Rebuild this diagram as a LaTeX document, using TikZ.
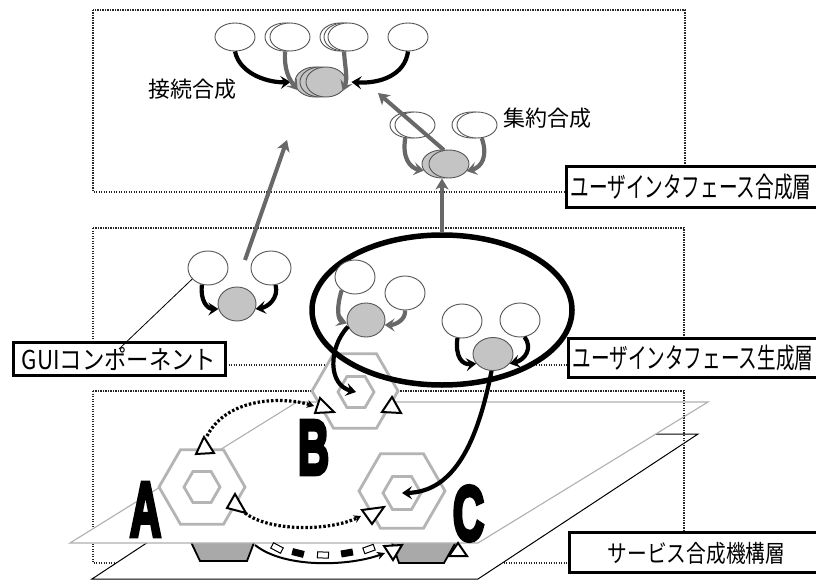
\documentclass[tikz,border=0pt]{standalone}
\usepackage{fontspec}
\usetikzlibrary{arrows.meta,shapes.geometric}
\newfontfamily\jp{Noto Sans CJK JP}
\newfontfamily\bigletter{Liberation Sans}[BoldFeatures={FakeBold=6}]
\definecolor{ellgray}{HTML}{C4C4C4}
\definecolor{edgegray}{HTML}{555555}
\definecolor{arrgray}{HTML}{686868}
\definecolor{hexgray}{HTML}{B4B4B4}
\definecolor{padgray}{HTML}{A9A9A9}
\definecolor{planegray}{HTML}{B0B0B0}
\tikzset{
  wel/.style={ellipse, draw=edgegray, line width=0.9pt, fill=white, minimum width=40pt, minimum height=34pt, inner sep=0pt},
  gel/.style={wel, fill=ellgray},
  barrow/.style={line width=4.2pt, -{Stealth[length=10pt,width=13pt,inset=4pt]}},
  garrow/.style={barrow, draw=arrgray},
  sarrow/.style={line width=4pt, draw=arrgray, -{Stealth[length=11pt,width=13pt,inset=3pt]}},
  hexo/.style={regular polygon, regular polygon sides=6, draw=hexgray, line width=2.8pt, fill=white, minimum size=86pt, inner sep=0pt},
  hexi/.style={hexo, minimum size=36pt},
  tri/.style={draw=black, line width=2pt, fill=white, line join=miter},
  dotbox/.style={draw=black!85, line width=1.2pt, dash pattern=on 1.2pt off 1.3pt},
  labelbox/.style={draw=black, line width=3pt, fill=white, inner sep=0pt},
  dotarrow/.style={line width=3.2pt, dash pattern=on 2.5pt off 2pt, -{Stealth[length=7pt,width=8pt]}},
  letter/.style={font=\bigletter\bfseries\fontsize{77}{77}\selectfont, inner sep=0pt},
  chainw/.style={rectangle, draw=black, line width=1pt, fill=white, minimum width=11pt, minimum height=6pt, inner sep=0pt},
  chainb/.style={chainw, fill=black},
  lbl/.style={font=\jp\fontsize{28}{28}\selectfont, inner sep=0pt},
  captext/.style={font=\jp\fontsize{22}{22}\selectfont, inner sep=0pt}
}
\begin{document}
\begin{tikzpicture}[x=1pt,y=-1pt]
\useasboundingbox (0,0) rectangle (816,580);
\fill[white] (0,0) rectangle (816,580);

% layer boxes
\draw[dotbox] (93,10) rectangle (685,192);
\draw[dotbox] (93,228) rectangle (684,365);
\draw[dotbox] (93,391) rectangle (684,563);

% planes
\draw[black, line width=1pt, fill=white] (92,579) -- (478,579) -- (698,434) -- (312,434) -- cycle;
\draw[fill=padgray, draw=black, line width=1.8pt] (190,540) -- (200,561) -- (247,561) -- (255,540);
\draw[fill=padgray, draw=black, line width=1.8pt] (391,540) -- (399,563) -- (444,563) -- (457,540);
\draw[planegray, line width=1.1pt, fill=white] (70,543) -- (478,543) -- (708,402) -- (297,402) -- cycle;
\draw[dotbox] (684,400) -- (684,445);

% big ellipse background
\node[ellipse, fill=white, minimum width=260pt, minimum height=150pt, inner sep=0pt] (bigEf) at (442,310) {};

% hexagons
\node[hexo] (hA) at (202,487) {};
\node[hexi] (hAi) at (202,487) {};
\node[hexo] (hB) at (355,391) {};
\node[hexi] (hBi) at (356,392) {};
\node[hexo] (hC) at (402,491) {};
\node[hexi, minimum size=38pt] (hCi) at (402,493) {};

% triangles
\draw[tri] (204,437) -- (196,454) -- (214,453) -- cycle;
\draw[tri] (235,494) -- (227,508) -- (246,513) -- cycle;
\draw[tri] (320,398) -- (315,413) -- (334,412) -- cycle;
\draw[tri] (392,397) -- (382,412) -- (401,413) -- cycle;
\draw[tri] (362,510) -- (384,507) -- (372,524) -- cycle;
\draw[tri] (384,546) -- (402,545) -- (393,560) -- cycle;
\draw[tri] (449,556) -- (467,556) -- (458,543) -- cycle;

% dotted arrows
\coordinate (dA1) at (207,436);
\coordinate (dB1) at (314,406);
\coordinate (dA2) at (245,513);
\coordinate (dC1) at (361,516);
\draw[dotarrow] (dA1) .. controls (228,396) and (285,397) .. (dB1);
\draw[dotarrow] (dA2) .. controls (270,532) and (330,531) .. (dC1);

% bottom arrow and chain
\coordinate (p1) at (255,545);
\coordinate (p2) at (385,553);
\draw[line width=2pt, -{Stealth[length=8pt,width=8pt]}] (p1) .. controls (285,569) and (350,566) .. (p2);
\node[chainw, rotate=-28] (c1) at (277,548) {};
\node[chainb, rotate=-14] (c2) at (298,553) {};
\node[chainw, rotate=-2] (c3) at (323,555) {};
\node[chainb, rotate=10] (c4) at (347,553) {};
\node[chainw, rotate=20] (c5) at (369,549) {};

% letters
\node[letter] (LA) at (145.5,509.5) {\scalebox{0.56}[1]{A}};
\node[letter] (LB) at (313.5,447.5) {\scalebox{0.56}[1]{B}};
\node[letter] (LC) at (468.5,513.5) {\scalebox{0.56}[1]{C}};

% big ellipse outline
\node[ellipse, draw=black, line width=5.5pt, minimum width=260pt, minimum height=150pt, inner sep=0pt] (bigE) at (442,310) {};

% ---- top layer
\node[wel, minimum height=28pt] (t1) at (235,37) {};
\node[wel, minimum height=28pt] (t2b) at (285,37) {};
\node[wel, minimum height=28pt] (t2) at (290,37) {};
\node[wel, minimum height=28pt] (t3c) at (340,37) {};
\node[wel, minimum height=28pt] (t3b) at (344,37) {};
\node[wel, minimum height=28pt] (t3) at (348,37) {};
\node[wel, minimum height=28pt] (t4) at (408,37) {};
\node[gel, minimum height=30pt] (gs3) at (315,82) {};
\node[gel, minimum height=30pt] (gs2) at (320,82) {};
\node[gel, minimum height=30pt] (gs) at (326,82) {};
\draw[barrow] (t1.south) .. controls (240,75) and (270,83) .. ([xshift=-4pt]gs3.west);
\draw[garrow] (t2b.south) .. controls (284,70) and (289,79) .. (gs3.205);
\draw[garrow] (t3b.south) .. controls (345,68) and (348,78) .. (gs.-28);
\draw[barrow] (t4.south) .. controls (405,75) and (380,84) .. ([xshift=5pt]gs.east);
\node[captext] (jt1) at (192,89) {接続合成};

\node[wel, minimum height=26pt] (r1b) at (410,125) {};
\node[wel, minimum height=26pt] (r1) at (415,125) {};
\node[wel, minimum height=26pt] (r2b) at (472,125) {};
\node[wel, minimum height=26pt] (r2) at (477,125) {};
\node[gel, minimum height=28pt] (rgb) at (442,164) {};
\node[gel, minimum height=28pt] (rg) at (449,164) {};
\draw[garrow] (r1b.250) .. controls (402,158) and (410,168) .. (rgb.200);
\draw[garrow] (r2.290) .. controls (488,156) and (482,167) .. (rg.-22);
\node[captext] (jt2) at (547,118) {集約合成};
\coordinate (agg) at (378,93);
\draw[sarrow] (rg.110) -- (agg);

% ---- middle layer
\node[wel] (g1) at (208,268) {};
\node[wel] (g2) at (271,268) {};
\node[gel, minimum width=38pt] (g3) at (237,304) {};
\draw[barrow] (g1.250) .. controls (200,300) and (207,309) .. (g3.195);
\draw[barrow] (g2.285) .. controls (279,298) and (268,307) .. (g3.-15);
\coordinate (gs0) at (245,260);
\coordinate (gs1) at (287,140);
\draw[sarrow] (gs0) -- (gs1);
\draw[sarrow] (bigE.north) -- (rgb.south);

\node[wel] (m1) at (355,277) {};
\node[wel] (m2) at (405,293) {};
\node[gel, minimum width=38pt] (m3) at (366,320) {};
\draw[garrow] (m1.225) .. controls (336,308) and (338,320) .. (m3.190);
\draw[garrow] (m2.270) .. controls (406,320) and (395,325) .. (m3.-15);
\draw[barrow] (m3.200) .. controls (328,348) and (328,385) .. (hBi.center);

\node[wel] (n1) at (462,321) {};
\node[wel] (n2) at (520,320) {};
\node[gel, minimum height=33pt] (n3) at (493,354) {};
\draw[barrow] (n1.255) .. controls (455,357) and (462,365) .. (n3.210);
\draw[barrow] (n2.285) .. controls (533,348) and (525,360) .. (n3.-30);
\draw[barrow] (n3.265) .. controls (478,440) and (455,492) .. (hCi.center);

% labels
\node[labelbox, minimum width=212pt, minimum height=33pt] (gui) at (119,358.5) {};
\node[font=\jp\fontsize{26}{26}\selectfont, inner sep=0pt] (guit) at (119,359) {\scalebox{0.86}[1]{GUIコンポーネント}};
\draw[line width=0.8pt] ([yshift=9.5pt]gui.center) -- (g1.215);

\node[labelbox, minimum width=265pt, minimum height=40pt, anchor=west] (L1) at (565,187) {};
\node[lbl] (L1t) at (691,187) {\scalebox{0.665}[1]{ユーザインタフェース合成層}};
\node[labelbox, minimum width=265pt, minimum height=39pt, anchor=west] (L2) at (567,357.5) {};
\node[lbl] (L2t) at (693,358) {\scalebox{0.665}[1]{ユーザインタフェース生成層}};
\node[labelbox, minimum width=265pt, minimum height=40pt, anchor=west] (L3) at (568,552) {};
\node[font=\jp\fontsize{24}{24}\selectfont, inner sep=0pt] (L3t) at (696.5,553) {\scalebox{0.82}[1]{サービス合成機構層}};
\end{tikzpicture}
\end{document}
